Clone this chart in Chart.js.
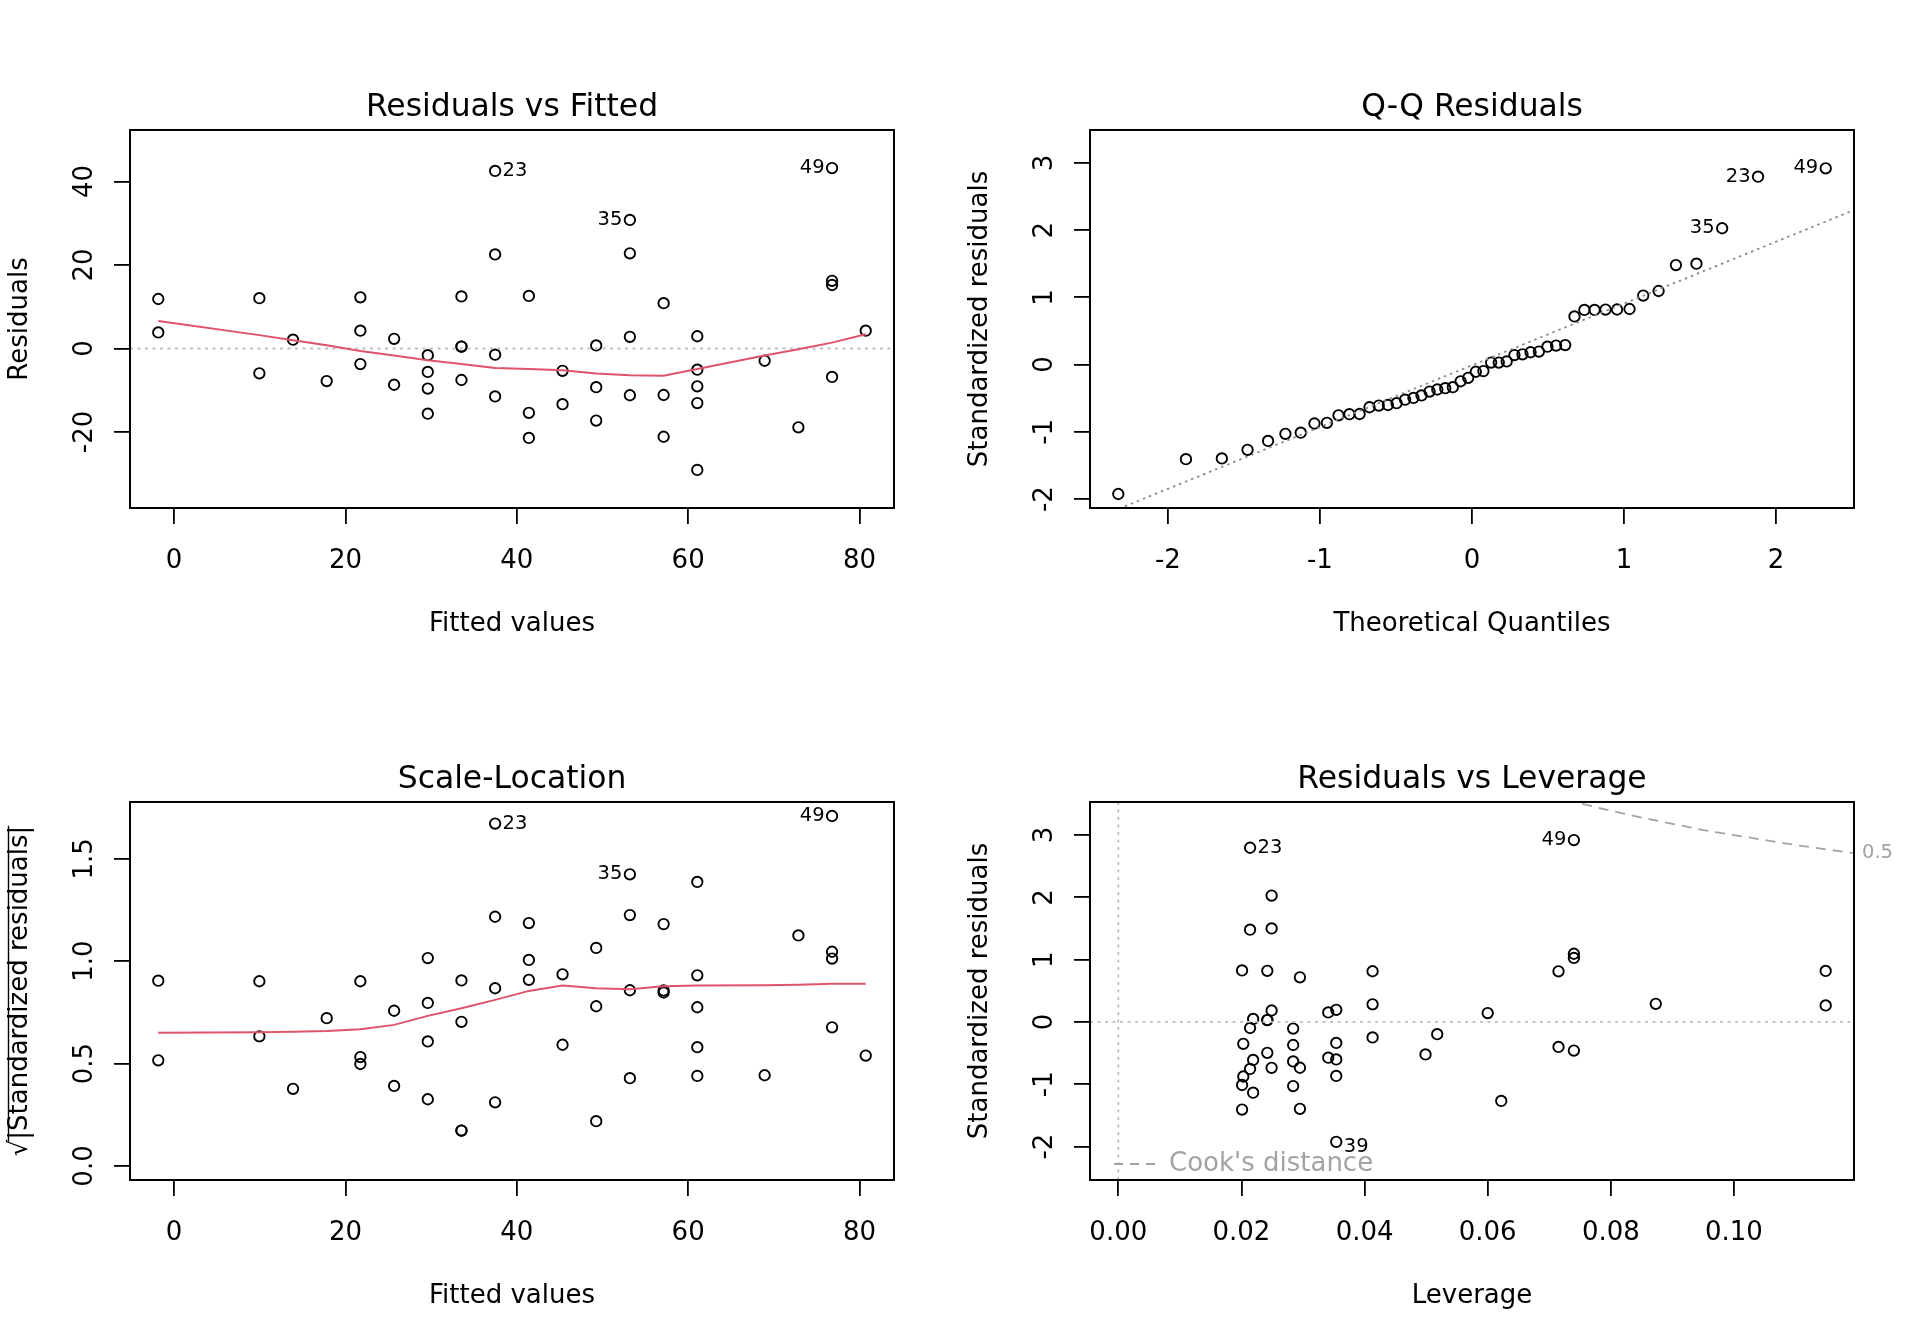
<!DOCTYPE html>
<html>
<head>
<meta charset="utf-8">
<script src="https://cdn.jsdelivr.net/npm/chart.js@4.4.1/dist/chart.umd.min.js"></script>
<style>
  html, body { margin: 0; padding: 0; background: #fff; }
  #wrap { position: relative; width: 1920px; height: 1344px; }
  canvas { position: absolute; }
</style>
</head>
<body>
<div id="wrap">
  <canvas id="c1" width="960" height="672" style="left:0;top:0"></canvas>
  <canvas id="c2" width="960" height="672" style="left:960px;top:0"></canvas>
  <canvas id="c3" width="960" height="672" style="left:0;top:672px"></canvas>
  <canvas id="c4" width="960" height="672" style="left:960px;top:672px"></canvas>
</div>
<script>
// Diagnostics of a simple linear fit, one value per observation (1..50)
const fittedVals = [-1.85, -1.85, 9.95, 9.95, 13.88, 17.81, 21.74, 21.74, 21.74, 25.68,
  25.68, 29.61, 29.61, 29.61, 29.61, 33.54, 33.54, 33.54, 33.54, 37.47,
  37.47, 37.47, 37.47, 41.41, 41.41, 41.41, 45.34, 45.34, 49.27, 49.27,
  49.27, 53.20, 53.20, 53.20, 53.20, 57.14, 57.14, 57.14, 61.07, 61.07,
  61.07, 61.07, 61.07, 68.93, 72.87, 76.80, 76.80, 76.80, 76.80, 80.73];
const residualVals = [3.85, 11.85, -5.95, 12.05, 2.12, -7.81, -3.74, 4.26, 12.26, -8.68,
  2.32, -15.61, -9.61, -5.61, -1.61, -7.54, 0.46, 0.46, 12.46, -11.47,
  -1.47, 22.53, 42.53, -21.41, -15.41, 12.59, -13.34, -5.34, -17.27, -9.27,
  0.73, -11.20, 2.80, 22.80, 30.80, -21.14, -11.14, 10.86, -29.07, -13.07,
  -9.07, -5.07, 2.93, -2.93, -18.87, -6.80, 15.20, 16.20, 43.20, 4.27];
const stdResVals = [0.266, 0.819, -0.401, 0.813, 0.142, -0.521, -0.248, 0.283, 0.814, -0.574,
  0.153, -1.030, -0.634, -0.370, -0.106, -0.496, 0.030, 0.030, 0.820, -0.754,
  -0.097, 1.481, 2.796, -1.407, -1.012, 0.827, -0.876, -0.351, -1.135, -0.609,
  0.048, -0.737, 0.184, 1.501, 2.028, -1.395, -0.735, 0.717, -1.925, -0.866,
  -0.601, -0.336, 0.194, -0.196, -1.267, -0.459, 1.027, 1.095, 2.919, 0.291];
const sqrtAbsStdVals = [0.516, 0.905, 0.633, 0.902, 0.377, 0.722, 0.498, 0.532, 0.902, 0.758,
  0.391, 1.015, 0.796, 0.608, 0.326, 0.704, 0.173, 0.173, 0.906, 0.868,
  0.311, 1.217, 1.672, 1.186, 1.006, 0.909, 0.936, 0.592, 1.065, 0.780,
  0.219, 0.858, 0.429, 1.225, 1.424, 1.181, 0.857, 0.847, 1.387, 0.931,
  0.775, 0.580, 0.440, 0.443, 1.126, 0.677, 1.013, 1.046, 1.709, 0.539];
const leverageVals = [0.1149, 0.1149, 0.0715, 0.0715, 0.0600, 0.0499, 0.0413, 0.0413, 0.0413, 0.0341,
  0.0341, 0.0284, 0.0284, 0.0284, 0.0284, 0.0242, 0.0242, 0.0242, 0.0242, 0.0214,
  0.0214, 0.0214, 0.0214, 0.0201, 0.0201, 0.0201, 0.0203, 0.0203, 0.0219, 0.0219,
  0.0219, 0.0249, 0.0249, 0.0249, 0.0249, 0.0295, 0.0295, 0.0295, 0.0354, 0.0354,
  0.0354, 0.0354, 0.0354, 0.0518, 0.0622, 0.0740, 0.0740, 0.0740, 0.0740, 0.0873];

// Q-Q: theoretical quantiles and sorted standardized residuals
const theoQuantiles = [-2.326, -1.881, -1.645, -1.476, -1.341, -1.227, -1.126, -1.036, -0.954, -0.878,
  -0.806, -0.739, -0.674, -0.613, -0.553, -0.496, -0.440, -0.385, -0.332, -0.279,
  -0.228, -0.176, -0.126, -0.075, -0.025, 0.025, 0.075, 0.126, 0.176, 0.228,
  0.279, 0.332, 0.385, 0.440, 0.496, 0.553, 0.613, 0.674, 0.739, 0.806,
  0.878, 0.954, 1.036, 1.126, 1.227, 1.341, 1.476, 1.645, 1.881, 2.326];
const qqSample = [-1.925, -1.407, -1.395, -1.267, -1.135, -1.030, -1.012, -0.876, -0.866, -0.754,
  -0.737, -0.735, -0.634, -0.609, -0.601, -0.574, -0.521, -0.496, -0.459, -0.401,
  -0.370, -0.351, -0.336, -0.248, -0.196, -0.106, -0.097, 0.030, 0.030, 0.048,
  0.142, 0.153, 0.184, 0.194, 0.266, 0.283, 0.291, 0.717, 0.813, 0.814,
  0.819, 0.820, 0.827, 1.027, 1.095, 1.481, 1.501, 2.028, 2.796, 2.919];
const qqLineX = [-2.6, 2.6];
const qqLineY = [-2.40, 2.38];

// red smoother lines
const smoothX = [-1.85, 9.95, 13.88, 17.81, 21.74, 25.68, 29.61, 33.54, 37.47, 41.41,
  45.34, 49.27, 53.20, 57.14, 61.07, 68.93, 72.87, 76.80, 80.73];
const residSmoothY = [6.6, 3.2, 2.0, 0.8, -0.6, -1.7, -2.8, -3.7, -4.7, -4.9,
  -5.2, -6.0, -6.4, -6.5, -4.9, -1.7, -0.2, 1.4, 3.4];
const scaleSmoothY = [0.651, 0.653, 0.656, 0.659, 0.668, 0.689, 0.733, 0.770, 0.811, 0.855,
  0.881, 0.868, 0.863, 0.878, 0.881, 0.882, 0.885, 0.890, 0.890];

// Cook's distance 0.5 contour
const cookH = [0.070, 0.075, 0.080, 0.085, 0.090, 0.095, 0.100, 0.105, 0.110, 0.115, 0.1195];
const cookY = [3.64, 3.51, 3.39, 3.28, 3.18, 3.08, 3.00, 2.92, 2.84, 2.77, 2.71];
const cookLabel = '0.5';

// axis limits and ticks
const fitXMin = -5.15, fitXMax = 84.03;
const resYMin = -38.2, resYMax = 52.33;
const qqXMin = -2.512, qqXMax = 2.512;
const qqYMin = -2.133, qqYMax = 3.490;
const slYMin = -0.0684, slYMax = 1.7774;
const levXMin = -0.0046, levXMax = 0.1195;
const levYMin = -2.537, levYMax = 3.531;

const fitTicks = [0, 20, 40, 60, 80];
const resTicks = [-20, 0, 20, 40];
const qqXTicks = [-2, -1, 0, 1, 2];
const stdTicks = [-2, -1, 0, 1, 2, 3];
const slTicks = [0, 0.5, 1.0, 1.5];
const levTicks = [0, 0.02, 0.04, 0.06, 0.08, 0.10];

const FONT = 'DejaVu Sans';
const TICK_SIZE = 26;
const ID_SIZE = 19.5;
const RED = '#DF536B';
const SL_Y_TITLE = '\u221A|Standardized residuals|';

Chart.defaults.font.family = FONT;
Chart.defaults.color = '#000';

function measureWidest(labels) {
  const ctx = document.createElement('canvas').getContext('2d');
  ctx.font = TICK_SIZE + 'px "' + FONT + '"';
  return Math.max(...labels.map(t => ctx.measureText(t).width));
}

const fmtInt = v => String(v);
const fmt1 = v => v.toFixed(1);
const fmt2 = v => v.toFixed(2);

function xAxis(min, max, ticks, fmt, title) {
  return {
    type: 'linear', position: 'bottom', min: min, max: max, bounds: 'data',
    afterBuildTicks: s => { s.ticks = ticks.map(v => ({ value: v })); },
    afterFit: s => { s.height = 164; },
    grid: { drawOnChartArea: false, drawTicks: true, tickLength: 16, color: '#000', lineWidth: 1.8 },
    border: { display: false },
    ticks: { font: { size: TICK_SIZE }, padding: 22, maxRotation: 0, autoSkip: false, callback: v => fmt(v) },
    title: { display: true, text: title, font: { size: TICK_SIZE }, padding: { top: 0, bottom: 32 } }
  };
}

function yAxis(min, max, ticks, fmt, title) {
  const widest = measureWidest(ticks.map(fmt));
  return {
    type: 'linear', position: 'left', min: min, max: max, bounds: 'data',
    afterBuildTicks: s => { s.ticks = ticks.map(v => ({ value: v })); },
    afterFit: s => { s.width = 130; },
    grid: { drawOnChartArea: false, drawTicks: true, tickLength: 16, color: '#000', lineWidth: 1.8 },
    border: { display: false },
    ticks: {
      font: { size: TICK_SIZE }, padding: 29 - widest / 2, minRotation: 90, maxRotation: 90,
      crossAlign: 'center', autoSkip: false, callback: v => fmt(v)
    },
    title: { display: true, text: title, font: { size: TICK_SIZE }, padding: { top: 4.4, bottom: 0 } }
  };
}

function pointSet(xs, ys) {
  return {
    data: xs.map((x, i) => ({ x: x, y: ys[i] })),
    showLine: false, pointStyle: 'circle', pointRadius: 5.2, pointHoverRadius: 5.2,
    pointBorderWidth: 1.9, pointBackgroundColor: 'rgba(0,0,0,0)', pointBorderColor: '#000', order: 2
  };
}

function lineSet(xs, ys, color, width, dash) {
  return {
    data: xs.map((x, i) => ({ x: x, y: ys[i] })),
    showLine: true, pointRadius: 0, pointHoverRadius: 0, borderColor: color,
    borderWidth: width, borderDash: dash || [], tension: 0, order: 1
  };
}

// box around the plot region
const frame = {
  id: 'frame',
  afterDatasetsDraw(chart) {
    const a = chart.chartArea, c = chart.ctx;
    c.save();
    c.strokeStyle = '#000';
    c.lineWidth = 2;
    c.strokeRect(a.left, a.top, a.right - a.left, a.bottom - a.top);
    c.restore();
  }
};

// observation numbers next to the extreme points
const idLabels = {
  id: 'idLabels',
  afterDatasetsDraw(chart, args, opts) {
    if (!opts || !opts.items) return;
    const pts = chart.getDatasetMeta(0).data, c = chart.ctx;
    c.save();
    c.font = ID_SIZE + 'px "' + FONT + '"';
    c.fillStyle = '#000';
    c.textBaseline = 'middle';
    opts.items.forEach(it => {
      const p = pts[it.index];
      const left = it.side === 'left';
      c.textAlign = left ? 'right' : 'left';
      c.fillText(it.text, p.x + (left ? -7.5 : 7.5), p.y + (it.dy || 0));
    });
    c.restore();
  }
};

// overbar of the square root in the scale-location y title
const sqrtBar = {
  id: 'sqrtBar',
  afterDraw(chart) {
    const s = chart.scales.y, a = chart.chartArea, c = chart.ctx;
    c.save();
    c.font = TICK_SIZE + 'px "' + FONT + '"';
    const full = c.measureText(SL_Y_TITLE).width;
    const rad = c.measureText('\u221A').width;
    const cy = (a.top + a.bottom) / 2;
    const x = s.left + 4.4 + 15.6 - 11.5;
    c.strokeStyle = '#000';
    c.lineWidth = 1.4;
    c.beginPath();
    c.moveTo(x, cy + full / 2 - rad + 2);
    c.lineTo(x, cy - full / 2);
    c.stroke();
    c.restore();
  }
};

// Cook's distance legend and contour label
const cookNotes = {
  id: 'cookNotes',
  afterDraw(chart) {
    const a = chart.chartArea, c = chart.ctx, ys = chart.scales.y;
    c.save();
    c.fillStyle = '#a3a3a3';
    c.strokeStyle = '#a3a3a3';
    c.font = ID_SIZE + 'px "' + FONT + '"';
    c.textBaseline = 'middle';
    c.textAlign = 'left';
    c.fillText(cookLabel, a.right + 8, ys.getPixelForValue(cookY[cookY.length - 1]));
    const ly = a.bottom - 16;
    c.lineWidth = 1.8;
    c.setLineDash([9, 7]);
    c.beginPath();
    c.moveTo(a.left + 24, ly);
    c.lineTo(a.left + 65, ly);
    c.stroke();
    c.setLineDash([]);
    c.font = TICK_SIZE + 'px "' + FONT + '"';
    c.fillText("Cook's distance", a.left + 79, ly);
    c.restore();
  }
};

function titleOpts(text) {
  return {
    display: true, text: text, fullSize: false, color: '#000',
    font: { size: 31.4, weight: 'normal' }, padding: { top: 89.5, bottom: 2.8 }
  };
}

function makeChart(id, title, datasets, xs, ys, ids, extra) {
  return new Chart(document.getElementById(id), {
    type: 'scatter',
    data: { datasets: datasets },
    options: {
      responsive: false, animation: false, devicePixelRatio: 1, events: [],
      layout: { padding: { left: 0, right: 66, top: 0, bottom: 0 } },
      scales: { x: xs, y: ys },
      plugins: {
        legend: { display: false }, tooltip: { enabled: false },
        title: titleOpts(title), idLabels: { items: ids }
      }
    },
    plugins: [frame, idLabels].concat(extra || [])
  });
}

// Residuals vs Fitted
makeChart('c1', 'Residuals vs Fitted', [
  pointSet(fittedVals, residualVals),
  lineSet(smoothX, residSmoothY, RED, 2),
  lineSet([fitXMin, fitXMax], [0, 0], '#bebebe', 1.8, [3, 4.5])
], xAxis(fitXMin, fitXMax, fitTicks, fmtInt, 'Fitted values'),
   yAxis(resYMin, resYMax, resTicks, fmtInt, 'Residuals'),
   [{ index: 22, text: '23', side: 'right' }, { index: 48, text: '49', side: 'left' },
    { index: 34, text: '35', side: 'left' }]);

// Q-Q Residuals
makeChart('c2', 'Q-Q Residuals', [
  pointSet(theoQuantiles, qqSample),
  lineSet(qqLineX, qqLineY, '#8a8a8a', 1.8, [2.5, 4])
], xAxis(qqXMin, qqXMax, qqXTicks, fmtInt, 'Theoretical Quantiles'),
   yAxis(qqYMin, qqYMax, stdTicks, fmtInt, 'Standardized residuals'),
   [{ index: 48, text: '23', side: 'left' }, { index: 49, text: '49', side: 'left' },
    { index: 47, text: '35', side: 'left' }]);

// Scale-Location
makeChart('c3', 'Scale-Location', [
  pointSet(fittedVals, sqrtAbsStdVals),
  lineSet(smoothX, scaleSmoothY, RED, 2)
], xAxis(fitXMin, fitXMax, fitTicks, fmtInt, 'Fitted values'),
   yAxis(slYMin, slYMax, slTicks, fmt1, SL_Y_TITLE),
   [{ index: 22, text: '23', side: 'right' }, { index: 48, text: '49', side: 'left' },
    { index: 34, text: '35', side: 'left' }], [sqrtBar]);

// Residuals vs Leverage
makeChart('c4', 'Residuals vs Leverage', [
  pointSet(leverageVals, stdResVals),
  lineSet([levXMin, levXMax], [0, 0], '#bebebe', 1.8, [3, 4.5]),
  lineSet([0, 0], [levYMin, levYMax], '#bebebe', 1.8, [3, 4.5]),
  lineSet(cookH, cookY, '#a3a3a3', 1.8, [10, 7])
], xAxis(levXMin, levXMax, levTicks, fmt2, 'Leverage'),
   yAxis(levYMin, levYMax, stdTicks, fmtInt, 'Standardized residuals'),
   [{ index: 22, text: '23', side: 'right' }, { index: 48, text: '49', side: 'left' },
    { index: 38, text: '39', side: 'right', dy: 5 }], [cookNotes]);
</script>
</body>
</html>
